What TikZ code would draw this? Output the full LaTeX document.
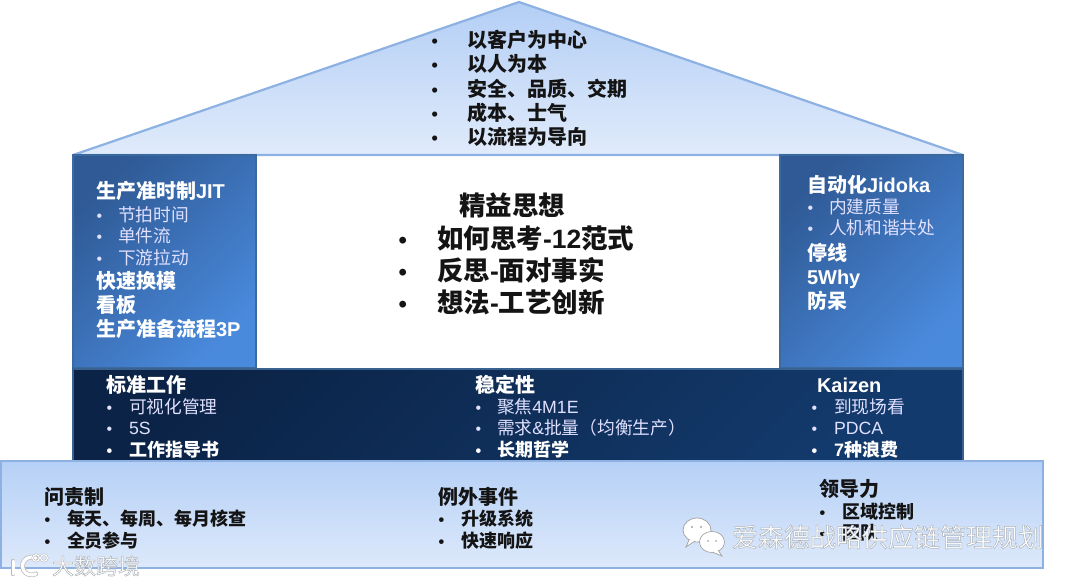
\documentclass[tikz,border=0pt]{standalone}
\usepackage{fontspec}
\setmainfont{Noto Sans CJK SC}
\newfontfamily\la{Liberation Sans}
\usetikzlibrary{positioning}
\definecolor{roofedge}{HTML}{8CB1E2}
\definecolor{pilledge}{HTML}{3C6A9E}
\definecolor{bandedge}{HTML}{3A6291}
\newcommand{\bul}[1]{\makebox[#1pt][l]{\hspace{.5pt}\scalebox{.9}{\la •}}}
\newcommand{\wmk}{\special{pdf:code 2 Tr 0.5 w 0.68 0.70 0.72 RG 1 1 1 rg}}
\newcommand{\wmkoff}{\special{pdf:code 0 Tr}}
\tikzset{
  every node/.style={inner sep=0pt,outer sep=0pt,anchor=west,align=left},
  tx20/.style={font=\fontsize{20}{24}\selectfont\bfseries,text height=17.6pt,text depth=2.4pt},
  tx18/.style={font=\fontsize{17.7}{22}\selectfont,text height=15.8pt,text depth=2.2pt},
  tx18b/.style={font=\fontsize{18}{22}\selectfont\bfseries,text height=15.8pt,text depth=2.2pt},
  tx26/.style={font=\fontsize{26.5}{30}\selectfont\bfseries,text height=23.3pt,text depth=3.2pt},
  dark/.style={text=black!92},
  light/.style={text=white},
  soft/.style={text=white!88!blue},
  pillar/.style={draw=pilledge,line width=2.2pt,shading=axis,top color=HTMLp1,bottom color=HTMLp2,shading angle=45,anchor=north west},
  band/.style={draw=bandedge,line width=2pt,shading=axis,top color=HTMLm1,bottom color=HTMLm2,shading angle=45,anchor=north west},
  base/.style={draw=roofedge,line width=2.4pt,top color=HTMLb1,bottom color=HTMLb2,anchor=north west},
  wechat/.style={fill=white,draw=black!35,line width=.8pt},
}
\definecolor{HTMLp1}{HTML}{2F5A95}
\definecolor{HTMLp2}{HTML}{4A8ADD}
\definecolor{HTMLm1}{HTML}{0B2346}
\definecolor{HTMLm2}{HTML}{133A6C}
\definecolor{HTMLb1}{HTML}{B5D0F6}
\definecolor{HTMLb2}{HTML}{DDE9FB}
\definecolor{HTMLr1}{HTML}{B3CEF5}
\definecolor{HTMLr2}{HTML}{E0EBFB}
\begin{document}
\begin{tikzpicture}[x=1pt,y=-1pt]
\useasboundingbox (0,0) rectangle (1080,585);
% roof
\draw[draw=roofedge,line width=2.2pt,top color=HTMLr1,bottom color=HTMLr2,line join=bevel] (519,2) -- (963,155) -- (73,155) -- cycle;
% pillars and bands
\node[pillar,minimum width=183pt,minimum height=213pt] (pl) at (73,155) {};
\node[pillar,minimum width=183pt,minimum height=213pt] (pr) at (780,155) {};
\node[band,minimum width=890pt,minimum height=93pt] (mid) at (73,369) {};
\node[base,minimum width=1042pt,minimum height=107pt] (low) at (1,461) {};
% roof text
\node[tx20,dark] (r1) at (431,40) {\bul{36}以客户为中心};
\node[tx20,dark] (r2) at (431,64) {\bul{36}以人为本};
\node[tx20,dark] (r3) at (431,88.5) {\bul{36}安全、品质、交期};
\node[tx20,dark] (r4) at (431,113) {\bul{36}成本、士气};
\node[tx20,dark] (r5) at (431,137) {\bul{36}以流程为导向};
% centre
\node[tx26,dark] (c0) at (459,205) {精益思想};
\node[tx26,dark] (c1) at (398,238) {\bul{39}如何思考{\la -12}范式};
\node[tx26,dark] (c2) at (398,270) {\bul{39}反思{\la -}面对事实};
\node[tx26,dark] (c3) at (398,302) {\bul{39}想法{\la -}工艺创新};
% left pillar
\node[tx20,light] (l0) at (96,191) {生产准时制{\la JIT}};
\node[tx18,soft] (l1) at (96,215) {\bul{22}节拍时间};
\node[tx18,soft] (l2) at (96,236) {\bul{22}单件流};
\node[tx18,soft] (l3) at (96,257.5) {\bul{22}下游拉动};
\node[tx20,light] (l4) at (96,281) {快速换模};
\node[tx20,light] (l5) at (96,305) {看板};
\node[tx20,light] (l6) at (96,329) {生产准备流程{\la 3P}};
% right pillar
\node[tx20,light] (g0) at (807,185) {自动化{\la Jidoka}};
\node[tx18,soft] (g1) at (807,207) {\bul{22}内建质量};
\node[tx18,soft] (g2) at (807,228) {\bul{22}人机和谐共处};
\node[tx20,light] (g3) at (807,253) {停线};
\node[tx20,light] (g4) at (807,277) {{\la 5Why}};
\node[tx20,light] (g5) at (807,301) {防呆};
% middle band
\node[tx20,light] (m0) at (106,385) {标准工作};
\node[tx18,soft] (m1) at (106,407) {\bul{23}可视化管理};
\node[tx18,soft] (m2) at (106,428) {\bul{23}{\la 5S}};
\node[tx18b,light] (m3) at (106,450) {\bul{23}工作指导书};
\node[tx20,light] (n0) at (475,385) {稳定性};
\node[tx18,soft] (n1) at (475,407) {\bul{22}聚焦{\la 4M1E}};
\node[tx18,soft] (n2) at (475,428) {\bul{22}需求{\la \&}批量（均衡生产）};
\node[tx18b,light] (n3) at (475,450) {\bul{22}长期哲学};
\node[tx20,light] (k0) at (817,385) {{\la Kaizen}};
\node[tx18,soft] (k1) at (811,407) {\bul{23}到现场看};
\node[tx18,soft] (k2) at (811,428) {\bul{23}{\la PDCA}};
\node[tx18b,light] (k3) at (811,450) {\bul{23}{\la 7}种浪费};
% bottom band
\node[tx20,dark] (b0) at (44,497) {问责制};
\node[tx18b,dark] (b1) at (44,519) {\bul{23}每天、每周、每月核查};
\node[tx18b,dark] (b2) at (44,540.5) {\bul{23}全员参与};
\node[tx20,dark] (e0) at (438,497) {例外事件};
\node[tx18b,dark] (e1) at (438,519) {\bul{23}升级系统};
\node[tx18b,dark] (e2) at (438,540.5) {\bul{23}快速响应};
\node[tx20,dark] (d0) at (819,489) {领导力};
\node[tx18b,dark] (d1) at (819,512) {\bul{23}区域控制};
\node[tx18b,dark] (d2) at (819,533) {\bul{23}团队};
% watermark: WeChat mark and name
\draw[wechat] (697,530) ellipse [x radius=14,y radius=12];
\draw[wechat] (689,540) -- (686,547) -- (695,541);
\draw[wechat] (712,542) ellipse [x radius=12.5,y radius=10.5];
\draw[wechat] (718,550) -- (722,556) -- (712,552);
\fill[wechat,draw=none] (712,542) ellipse [x radius=11.8,y radius=9.8];
\fill[black!35] (692,527) circle (1.1) (701,527) circle (1.1) (708,541) circle (1) (716,541) circle (1);
\node[font=\fontsize{26}{30}\selectfont] (wm) at (732,537) {\wmk 爱森德战略供应链管理规划\wmkoff};
% watermark: lower-left logo and name
\draw[black!28,line width=4.4pt,line cap=round] (13,561) -- (13,574);
\draw[black!28,line width=4.6pt,line cap=round] (36,573.8) arc [start angle=60,end angle=300,radius=9];
\draw[white,line width=3pt,line cap=round] (13,561) -- (13,574);
\draw[white,line width=3.2pt,line cap=round] (36,573.8) arc [start angle=60,end angle=300,radius=9];
\draw[black!30,line width=2pt] (36,558) circle (3.4) (44,558) circle (3.4);
\draw[white,line width=1.1pt] (36,558) circle (3.4) (44,558) circle (3.4);
\node[font=\fontsize{22}{26}\selectfont] (wn) at (52,566) {\wmk 大数跨境\wmkoff};
\end{tikzpicture}
\end{document}
